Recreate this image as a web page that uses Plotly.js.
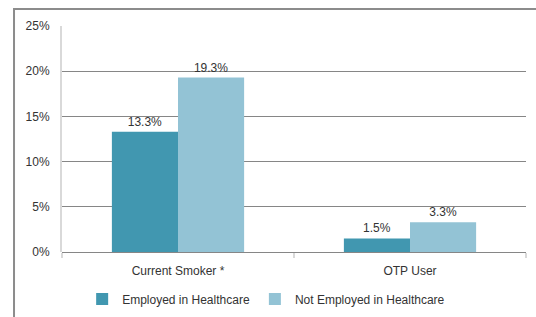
<!DOCTYPE html>
<html><head><meta charset="utf-8">
<script src="https://cdn.plot.ly/plotly-3.0.1.min.js"></script>
<style>html,body{margin:0;padding:0;background:#fff}</style>
</head><body><div id="chart" style="width:536px;height:317px"></div>
<script>
const categories = ["Current Smoker *", "OTP User"];
const employed = [13.3, 1.5];
const notEmployed = [19.3, 3.3];
const seriesNames = ["Employed in Healthcare", "Not Employed in Healthcare"];
const yTicks = [0, 5, 10, 15, 20, 25];

const font = {family: "Liberation Sans, Arial, sans-serif", size: 12, color: "#333333"};
const data = [
  {type: "bar", x: categories, y: employed, name: seriesNames[0],
   marker: {color: "#4197b0"}, texttemplate: "%{y:.1f}%", textposition: "outside",
   textfont: font, cliponaxis: false, hoverinfo: "none"},
  {type: "bar", x: categories, y: notEmployed, name: seriesNames[1],
   marker: {color: "#93c3d5"}, texttemplate: "%{y:.1f}%", textposition: "outside",
   textfont: font, cliponaxis: false, hoverinfo: "none"}
];
const layout = {
  width: 536, height: 317,
  margin: {l: 62, r: 10, t: 26, b: 65, autoexpand: false},
  paper_bgcolor: "#fff", plot_bgcolor: "#fff",
  font: font,
  barmode: "group", bargap: 0.43, bargroupgap: 0,
  showlegend: true,
  legend: {orientation: "h", x: 0.44, xanchor: "center", yref: "container", y: 0.057, yanchor: "middle",
           font: font, itemwidth: 30, traceorder: "normal"},
  xaxis: {type: "category", showline: false, zeroline: false, showgrid: false, automargin: false,
          ticks: "outside", tickson: "boundaries", ticklen: 5, tickcolor: "#d9d9d9", tickwidth: 2,
          ticklabelstandoff: 10, tickfont: font},
  yaxis: {range: [0, 25], tickvals: yTicks, ticktext: yTicks.map(v => v + "%"), automargin: false,
          showgrid: true, gridcolor: "#868686", gridwidth: 1,
          zeroline: true, zerolinecolor: "#868686", zerolinewidth: 1,
          showline: true, linecolor: "#d9d9d9", linewidth: 2,
          ticks: "", ticklabelstandoff: 8, tickfont: font},
  shapes: [
    {type: "rect", xref: "paper", yref: "paper", x0: -0.1034, x1: 1.2, y0: -0.4, y1: 1.0752,
     line: {color: "#8c8c8c", width: 2}, fillcolor: "rgba(0,0,0,0)", layer: "below"}
  ]
};
Plotly.newPlot("chart", data, layout, {staticPlot: true});
</script></body></html>
